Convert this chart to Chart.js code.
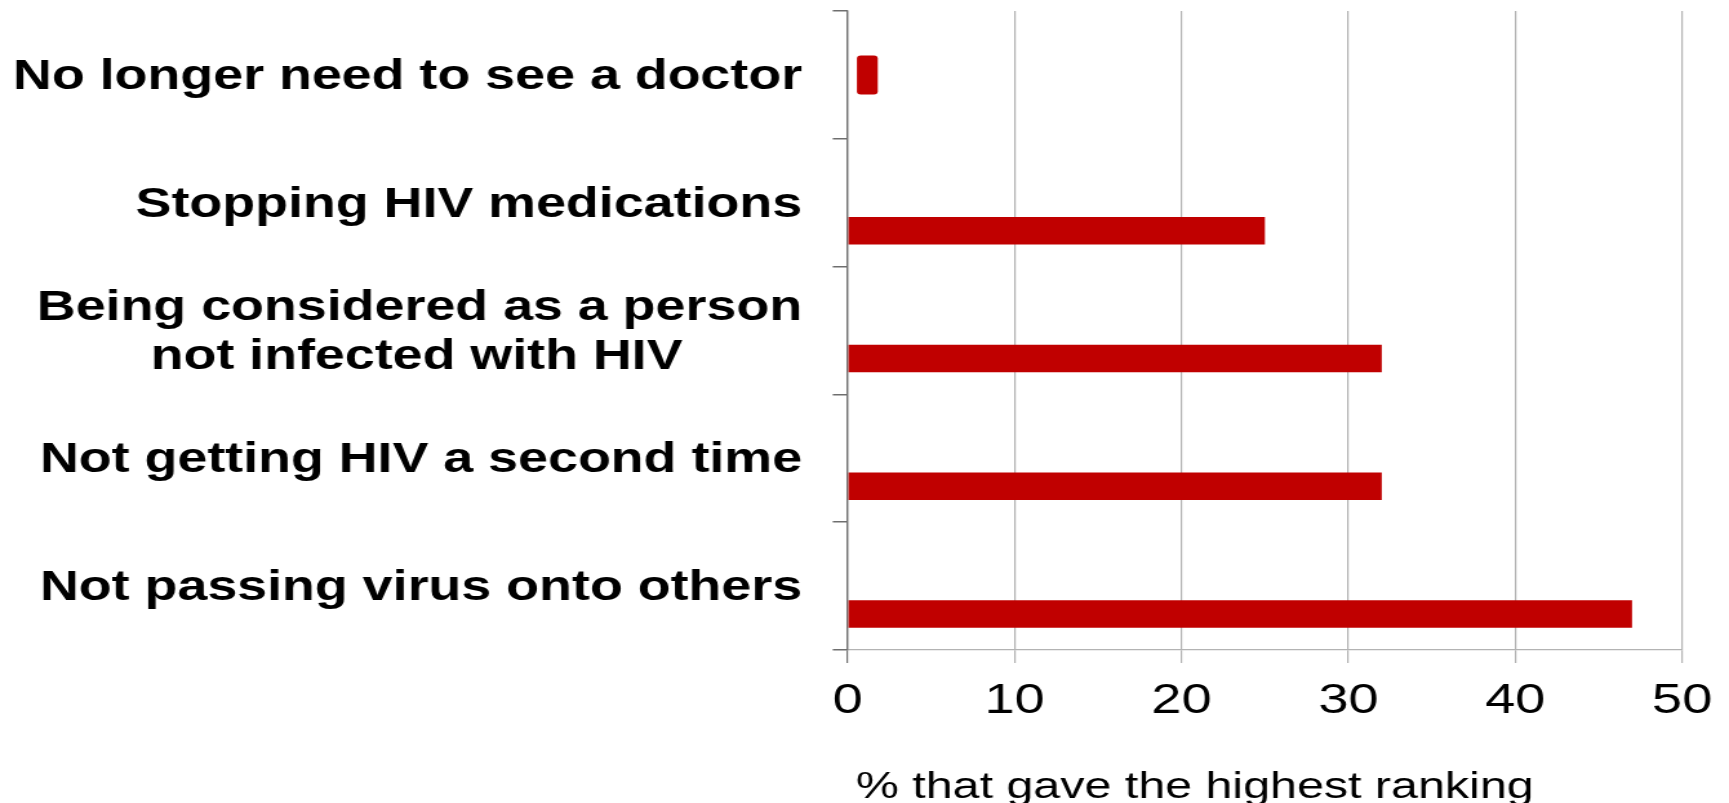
<!DOCTYPE html>
<html>
<head>
<meta charset="utf-8">
<script src="https://cdn.jsdelivr.net/npm/chart.js@4.4.1/dist/chart.umd.min.js"></script>
<style>
  html, body { margin: 0; padding: 0; background: #fff; overflow: hidden; width: 1729px; height: 803px; }
  /* the chart is laid out narrow and widened to the full page */
  #wrap { position: absolute; left: 0; top: 0; width: 1340px; height: 810px;
          transform: scaleX(1.290299); transform-origin: 0 0; }
</style>
</head>
<body>
<div id="wrap"><canvas id="chart" width="1340" height="810"></canvas></div>
<script>
const categories = [
  'No longer need to see a doctor',
  'Stopping HIV medications',
  'Being considered as a person\nnot infected with HIV',
  'Not getting HIV a second time',
  'Not passing virus onto others'
];
// first answer is drawn as a short floating marker
const doctorSpan = [0.55, 1.8];
const topRankPct = [null, 25, 32, 32, 47];
const xTickValues = [0, 10, 20, 30, 40, 50];
const xTitle = '\u2006% that gave the highest ranking';

const FONT = '"Liberation Sans", Arial, Helvetica, sans-serif';
const labelFont = { family: FONT, size: 41.7, weight: 'bold', lineHeight: 1.163 };
const BAR_RED = '#c00000';
const AXIS_GREY = '#6e6e6e';
const GRID_GREY = '#b3b3b3';

// centre the lines of a wrapped label on each other while the block stays right-aligned
function stackLines(text) {
  const lines = text.split('\n');
  if (lines.length === 1) return text;
  const ctx = document.createElement('canvas').getContext('2d');
  ctx.font = `bold ${labelFont.size}px ${FONT}`;
  const widths = lines.map(l => ctx.measureText(l).width);
  const widest = Math.max(...widths);
  const space = ctx.measureText(' ').width;
  return lines.map((l, i) => l + ' '.repeat(Math.round((widest - widths[i]) / 2 / space)));
}

new Chart(document.getElementById('chart'), {
  type: 'bar',
  data: {
    labels: categories.map(stackLines),
    datasets: [
      // empty slot above the bars so each bar sits in the lower half of its band
      { label: 'spacer', data: categories.map(() => null) },
      {
        label: 'Highest ranking',
        data: topRankPct,
        backgroundColor: BAR_RED,
        categoryPercentage: 0.875,
        barPercentage: 0.491
      },
      {
        label: 'No longer need to see a doctor',
        data: categories.map((_, i) => i === 0 ? doctorSpan : null),
        grouped: false,
        backgroundColor: BAR_RED,
        categoryPercentage: 0.305,
        barPercentage: 1,
        borderRadius: 3,
        borderSkipped: false
      }
    ]
  },
  options: {
    indexAxis: 'y',
    responsive: false,
    animation: false,
    devicePixelRatio: 1,
    layout: { padding: { top: 11, right: 34, bottom: 0, left: 0 } },
    plugins: { legend: { display: false }, tooltip: { enabled: false } },
    scales: {
      x: {
        type: 'linear',
        min: 0,
        max: 50,
        afterBuildTicks: s => { s.ticks = xTickValues.map(v => ({ value: v })); },
        afterFit: s => { s.height = 160; },
        grid: {
          color: c => (c.tick && c.tick.value === 0) ? AXIS_GREY : GRID_GREY,
          lineWidth: 1.2,
          tickLength: 13,
          drawTicks: true
        },
        border: { color: GRID_GREY, width: 1.3 },
        ticks: { font: { family: FONT, size: 42 }, color: '#000', padding: 13, maxRotation: 0, autoSkip: false },
        title: {
          display: true,
          text: xTitle,
          align: 'start',
          font: { family: FONT, size: 37.5 },
          color: '#000',
          padding: { top: 0, bottom: 0 }
        }
      },
      y: {
        afterFit: s => { s.width = 657; s.paddingTop = 0; s.paddingBottom = 0; },
        grid: { drawOnChartArea: false, color: AXIS_GREY, lineWidth: 1.5, tickLength: 11.6 },
        border: { color: AXIS_GREY, width: 1.3 },
        ticks: { font: labelFont, color: '#000', padding: 23.8, labelOffset: 2.5, autoSkip: false }
      }
    }
  }
});
</script>
</body>
</html>
